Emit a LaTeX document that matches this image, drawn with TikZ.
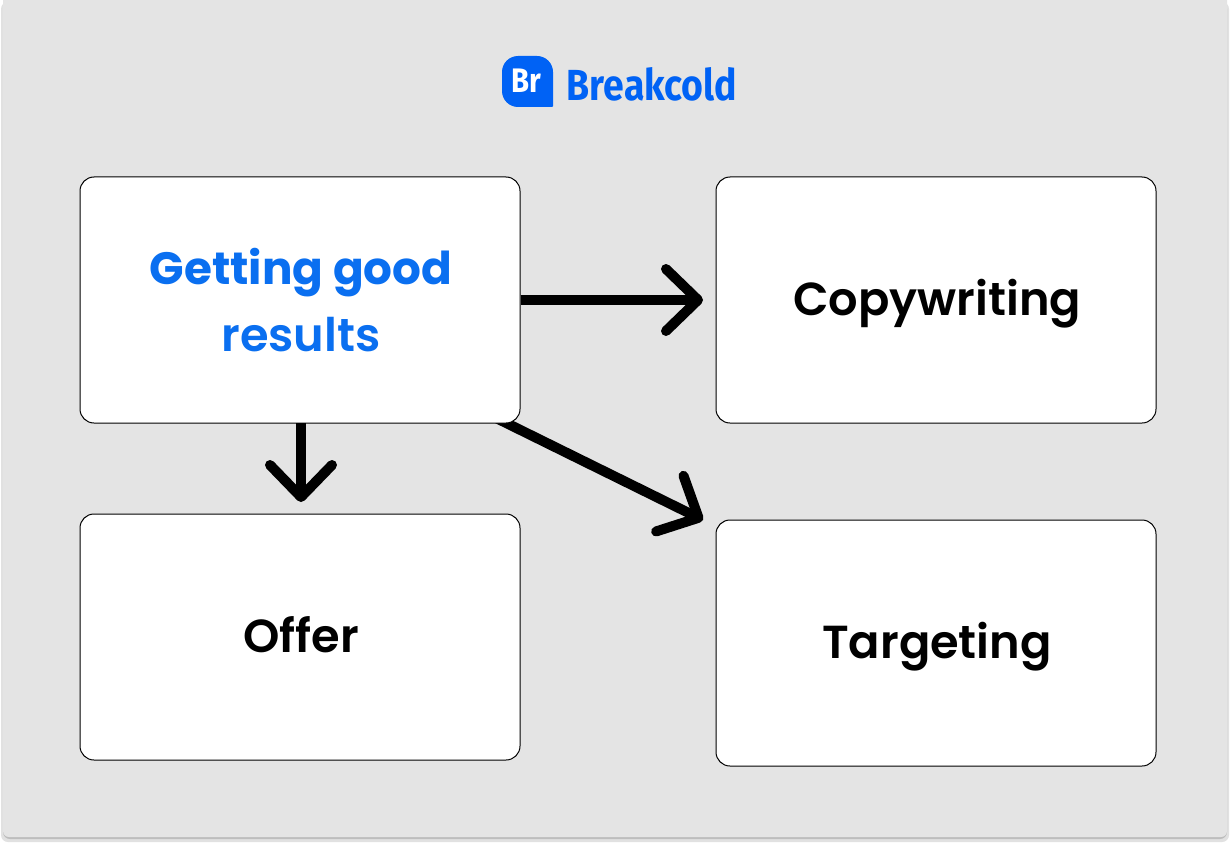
\documentclass[tikz,border=0pt]{standalone}
\usepackage{fontspec}
\setmainfont{Poppins}[BoldFont={Poppins SemiBold}]
\newfontfamily\logofont{Fira Sans}[FakeStretch=0.86]
\newfontfamily\titlefont{Poppins}
\usetikzlibrary{arrows.meta}
\usetikzlibrary{backgrounds}
\definecolor{panelgray}{HTML}{E4E4E4}
\definecolor{shadowgray}{HTML}{BDBDBD}
\definecolor{brandblue}{HTML}{0062F5}
\definecolor{titleblue}{HTML}{0A6FF0}
\begin{document}
\begin{tikzpicture}[x=1pt,y=-1pt,
    bx/.style={draw=black,fill=white,line width=1pt,rounded corners=14pt,minimum width=440pt,minimum height=246pt,inner sep=0pt},
    lb/.style={font=\fontsize{46.3}{67}\selectfont\bfseries,text=black,align=center,inner sep=0pt},
    ar/.style={draw=black,line width=10pt,-{Straight Barb[length=32pt,width=62pt,round]}}]
                \useasboundingbox (0,0) rectangle (1230,845);
                % boxes
                \node[bx] (results) at (300,300) {};
                \node[bx] (copy) at (936,300) {};
                \node[bx] (offer) at (300,637) {};
                \node[bx] (target) at (936,643) {};
                \node[lb,text=titleblue] (resultstxt) at (301,300) {\titlefont\fontsize{45.3}{67}\selectfont\bfseries Getting good\\results};
                \node[lb] (copytxt) at (937,304) {Copywriting};
                \node[lb] (offertxt) at (301,635) {Offer};
                \node[lb] (targettxt) at (937,647) {Targeting};
                % logo
                \fill[brandblue,rounded corners=16pt] (502,56) -- (553,56) -- (553,90) -- (553,90)
                    [rounded corners=1pt] -- (553,107) [rounded corners=16pt] -- (502,107) -- cycle;
                \node[text=white,inner sep=0pt,font=\logofont\fontsize{34}{34}\selectfont\bfseries] (brmark) at (526,81) {Br};
                \node[text=brandblue,inner sep=0pt,font=\logofont\fontsize{43.5}{43.5}\selectfont\bfseries] (brname) at (652,84) {Breakcold};
                \coordinate (copyend) at (703,300);
                \coordinate (offerstart) at (301,423);
                \coordinate (offerend) at (301,502);
                \coordinate (targetend) at (703,520);
                \coordinate (targetstart) at (490,415);
                \draw[ar] (results.east) -- (copyend);
                \draw[ar] (offerstart) -- (offerend);
                % panel and the arrow that runs under the box
                \begin{pgfonlayer}{background}
                    \fill[white] (0,0) rectangle (1230,845);
                    \fill[shadowgray!45,rounded corners=7pt] (1,2) rectangle (1229,842);
                    \fill[shadowgray,rounded corners=7pt] (3,2) rectangle (1227,839);
                    \fill[panelgray,rounded corners=6pt] (3,-6) rectangle (1227,837);
                    \draw[ar] (targetstart) -- (targetend);
                \end{pgfonlayer}
                \end{tikzpicture}
\end{document}
